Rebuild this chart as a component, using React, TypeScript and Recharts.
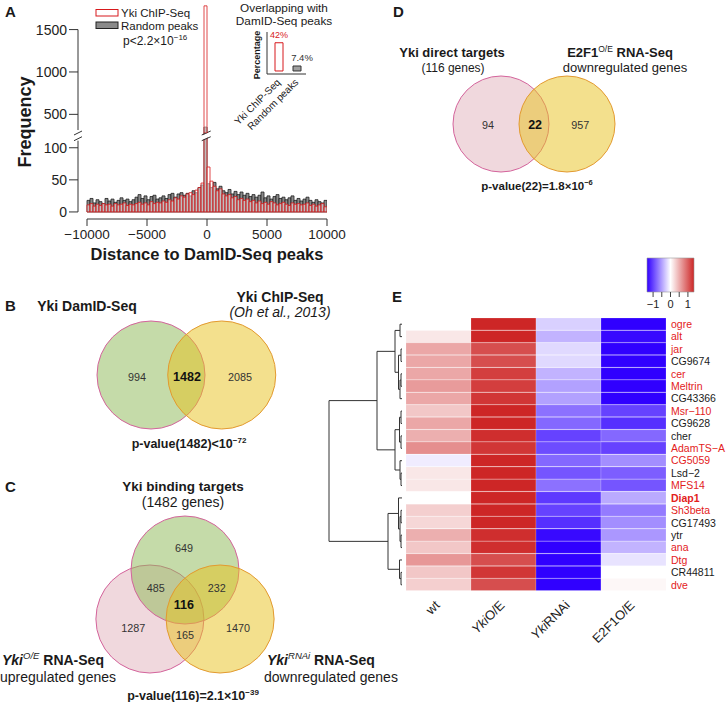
import React from 'react';
import {
  BarChart, Bar, XAxis, YAxis, ReferenceLine, ReferenceArea, ScatterChart, Scatter,
  ComposedChart, Line, Cell, LabelList,
} from 'recharts';

const FONT = '"Liberation Sans", Arial, Helvetica, sans-serif';

// ---------------- Panel A: histogram ----------------
const histBinStart = -10000;
const histBinWidth = 250;
const histTicks = [-10000, -5000, 0, 5000, 10000];
const randomPeaks = [
  18, 21, 14, 19, 16, 13, 21, 17, 20, 15, 18, 22, 18, 20, 16, 19, 23, 27, 21, 25, 19, 24, 26, 20, 22, 25,
  21, 27, 29, 23, 28, 30, 26, 29, 25, 33, 30, 38, 42,
  350,
  44, 38, 46, 36, 40, 33, 30, 35, 28, 32, 27, 31, 26,
  29, 24, 27, 23, 26, 31, 22, 25, 20, 24, 27, 21, 23, 19, 22, 25, 18, 21, 17, 20, 23, 18, 15, 19, 16, 14, 18,
];
const ykiChipSeq = [
  11, 13, 9, 12, 10, 13, 11, 12, 9, 13, 11, 12, 14, 10, 12, 11, 13, 15, 12, 14, 11, 16, 13, 15, 14, 17,
  15, 19, 17, 22, 20, 25, 23, 28, 30, 27, 34, 38, 45,
  1780,
  70, 48, 40, 33, 36, 28, 25, 27, 22, 24, 19, 21, 18,
  20, 16, 18, 14, 17, 13, 15, 12, 16, 14, 11, 13, 15, 12, 10, 14, 12, 13, 11, 12, 14, 10, 12, 9, 11, 13, 8,
];
const histLowTop = 123;
const histHighBottom = 280;
const histTable = randomPeaks.map((g, i) => ({
  x: histBinStart + histBinWidth * (i + 0.5),
  gray: g,
  red: ykiChipSeq[i],
  grayHi: g > histHighBottom ? g : null,
  redHi: ykiChipSeq[i] > histHighBottom ? ykiChipSeq[i] : null,
}));

// Inset
const insetCategories = ['Yki ChIP-Seq', 'Random peaks'];
const insetPercent = [42, 7.4];
const insetLabels = ['42%', '7.4%'];
const insetTable = insetCategories.map((c, i) => ({ name: c, pct: insetPercent[i], label: insetLabels[i] }));

// ---------------- Venn diagrams ----------------
const vennBCircles = [
  { set: 'green', x: 0, y: 0, r: 1 },
  { set: 'yellow', x: 1.31, y: 0, r: 1 },
];
const vennBCounts = [
  { x: -0.26, y: -0.04, text: '994', bold: false },
  { x: 0.667, y: -0.04, text: '1482', bold: true },
  { x: 1.65, y: -0.04, text: '2085', bold: false },
];
const vennCCircles = [
  { set: 'pink', x: -0.65, y: 0, r: 1 },
  { set: 'green', x: 0, y: 0.907, r: 1 },
  { set: 'yellow', x: 0.65, y: 0, r: 1 },
];
const vennCCounts = [
  { x: -0.02, y: 1.31, text: '649', bold: false },
  { x: -0.54, y: 0.57, text: '485', bold: false },
  { x: 0.59, y: 0.57, text: '232', bold: false },
  { x: -0.02, y: 0.26, text: '116', bold: true },
  { x: -0.96, y: -0.17, text: '1287', bold: false },
  { x: 0.0, y: -0.3, text: '165', bold: false },
  { x: 0.98, y: -0.17, text: '1470', bold: false },
];
const vennDCircles = [
  { set: 'pink', x: 0, y: 0, r: 1 },
  { set: 'yellow', x: 1.375, y: 0, r: 1 },
];
const vennDCounts = [
  { x: -0.27, y: -0.02, text: '94', bold: false },
  { x: 0.71, y: -0.02, text: '22', bold: true },
  { x: 1.65, y: -0.02, text: '957', bold: false },
];
const vennPalette: Record<string, { fill: string; stroke: string }> = {
  green: { fill: 'rgb(139,183,83)', stroke: '#d4649c' },
  pink: { fill: 'rgb(225,177,187)', stroke: '#d4649c' },
  yellow: { fill: 'rgb(231,193,28)', stroke: '#e39a30' },
};

// ---------------- Panel E: heatmap ----------------
const genes = ['ogre', 'alt', 'jar', 'CG9674', 'cer', 'Meltrin', 'CG43366', 'Msr\u2212110', 'CG9628', 'cher',
  'AdamTS\u2212A', 'CG5059', 'Lsd\u22122', 'MFS14', 'Diap1', 'Sh3beta', 'CG17493', 'ytr', 'ana', 'Dtg', 'CR44811', 'dve'];
const geneIsTarget = [true, true, true, false, true, true, false, true, false, false, true, true, false, true,
  true, true, false, false, true, true, false, true];
const highlightedGene = 'Diap1';
const conditions = ['wt', 'YkiO/E', 'YkiRNAi', 'E2F1O/E'];
const wtValues = [0, 0.15, 0.55, 0.55, 0.55, 0.62, 0.55, 0.35, 0.55, 0.5, 0.7, -0.1, 0.15, 0.15,
  0, 0.3, 0.25, 0.5, 0.35, 0.65, 0.35, 0.3];
const ykiOEValues = [1.4, 1.4, 1.1, 1.1, 1.2, 1.2, 1.25, 1.35, 1.35, 1.3, 1.25, 1.4, 1.35, 1.35,
  1.4, 1.4, 1.4, 1.3, 1.3, 1.1, 1.25, 1.1];
const ykiRNAiValues = [-0.25, -0.4, -0.2, -0.2, -0.4, -0.5, -0.5, -0.75, -0.8, -1.0, -0.95, -0.8, -0.9, -0.75,
  -1.05, -1.0, -1.1, -1.3, -1.4, -1.4, -1.4, -1.4];
const e2f1OEValues = [-1.4, -1.3, -1.4, -1.4, -1.4, -1.35, -1.4, -1.0, -1.1, -0.8, -1.0, -0.6, -0.85, -0.9,
  -0.45, -0.7, -0.6, -0.55, -0.4, -0.15, 0, 0.05];
const heatColumns = [wtValues, ykiOEValues, ykiRNAiValues, e2f1OEValues];
const heatTable = genes.map((g, i) => ({ gene: g, s0: 1, s1: 1, s2: 1, s3: 1, idx: i }));
const colorbarTicks = [-1, -0.5, 0, 0.5, 1];
const colorLimit = 1.35;

// dendrogram merges (hclust style: negative = leaf index+1, positive = earlier merge)
const dendroMerges: [number, number, number][] = [
  [-1, -2, 2], [-3, -4, 1], [-5, -6, 1], [3, -7, 2], [2, 4, 3.5], [1, 5, 7],
  [-8, -9, 1], [-10, -11, 1], [7, 8, 2.5], [-13, -14, 1], [-12, 10, 2], [9, 11, 7], [6, 12, 25],
  [-16, -17, 1], [-18, -19, 1], [14, 15, 2], [-15, 16, 3.5], [-21, -22, 1], [-20, 18, 2.5], [17, 19, 14],
  [13, 20, 73],
];

const heatColor = (v: number) => {
  const t = Math.max(-1, Math.min(1, v / colorLimit));
  let r, g, b;
  if (t >= 0) {
    r = 255 + (205 - 255) * t; g = 255 + (38 - 255) * t; b = 255 + (38 - 255) * t;
  } else {
    const s = -t;
    r = 255 + (48 - 255) * s; g = 255 - 255 * s; b = 255;
  }
  return `rgb(${Math.round(r)},${Math.round(g)},${Math.round(b)})`;
};

const dendroSegments = (() => {
  const nodes: { h: number; y: number }[] = [];
  const segs: { x1: number; y1: number; x2: number; y2: number }[] = [];
  const get = (c: number) => (c < 0 ? { h: 0, y: -c - 0.5 } : nodes[c - 1]);
  dendroMerges.forEach(([a, b, h]) => {
    const A = get(a); const B = get(b);
    segs.push({ x1: A.h, y1: A.y, x2: h, y2: A.y });
    segs.push({ x1: B.h, y1: B.y, x2: h, y2: B.y });
    segs.push({ x1: h, y1: A.y, x2: h, y2: B.y });
    nodes.push({ h, y: (A.y + B.y) / 2 });
  });
  return segs;
})();
const leafPoints = genes.map((g, i) => ({ h: 0, pos: i + 0.5 }));

// ---------------- components ----------------
const minus = (v: number) => (v < 0 ? '\u2212' + Math.abs(v) : String(v));

function Venn(props: any) {
  const { left, top, width, height, unit, origin, circles, counts } = props;
  const xDomain = [-origin[0] / unit, (width - origin[0]) / unit];
  const yDomain = [-(height - origin[1]) / unit, origin[1] / unit];
  return (
    <div style={{ position: 'absolute', left, top }}>
      <ScatterChart width={width} height={height} margin={{ top: 0, right: 0, bottom: 0, left: 0 }}>
        <XAxis type="number" dataKey="x" domain={xDomain} allowDataOverflow hide />
        <YAxis type="number" dataKey="y" domain={yDomain} allowDataOverflow hide />
        <Scatter data={circles} isAnimationActive={false}
          shape={(p: any) => {
            const pal = vennPalette[p.payload.set];
            return <circle cx={p.cx} cy={p.cy} r={p.payload.r * unit} fill={pal.fill} fillOpacity={0.5}
              stroke={pal.stroke} strokeWidth={1} />;
          }} />
        <Scatter data={counts} isAnimationActive={false}
          shape={(p: any) => (
            <text x={p.cx} y={p.cy} textAnchor="middle" dominantBaseline="central"
              fontSize={p.payload.bold ? 12.5 : 10.8} fontWeight={p.payload.bold ? 'bold' : 'normal'}
              fill={p.payload.bold ? '#111' : '#333'}>{p.payload.text}</text>
          )} />
      </ScatterChart>
    </div>
  );
}

const InsetTick = (props: any) => {
  const { x, y, payload } = props;
  const px = x + 2;
  return (
    <text x={px} y={y} textAnchor="end" fontSize={10} fill="#222" transform={`rotate(-45 ${px} ${y})`}>
      {payload.value}
    </text>
  );
};

const GeneTick = (props: any) => {
  const { x, y, payload } = props;
  const i = genes.indexOf(payload.value);
  return (
    <text x={x} y={y} dy="0.36em" fontSize={10.5} fill={geneIsTarget[i] ? '#e3211c' : '#1a1a1a'}
      fontWeight={payload.value === highlightedGene ? 'bold' : 'normal'}>{payload.value}</text>
  );
};

const ColTick = (props: any) => {
  const { x, y, payload } = props;
  const j = Math.floor(payload.value);
  const name = conditions[j];
  const px = x + 2;
  const py = y;
  let content: any = name;
  if (name.startsWith('Yki')) {
    content = [<tspan key="a" fontStyle="italic">Yki</tspan>, <tspan key="b">{name.slice(3)}</tspan>];
  }
  return (
    <text x={px} y={py} textAnchor="end" fontSize={13} fill="#222" transform={`rotate(-45 ${px} ${py})`}>
      {content}
    </text>
  );
};

const T = (p: any) => {
  const { x, y, size = 14, weight = 'normal', anchor = 'start', fill = '#1a1a1a', italic = false, rotate = 0, children } = p;
  return (
    <text x={x} y={y} fontSize={size} fontWeight={weight} textAnchor={anchor} fill={fill}
      fontStyle={italic ? 'italic' : 'normal'} transform={rotate ? `rotate(${rotate} ${x} ${y})` : undefined}>
      {children}
    </text>
  );
};

const axisTickX = { fontSize: 13.5, fill: '#222', fontFamily: FONT };
const axisTickY = { fontSize: 14, fill: '#222', fontFamily: FONT };

export default function App() {
  return (
    <div style={{ position: 'absolute', left: 0, top: 0, width: 726, height: 702, background: '#fff', fontFamily: FONT, overflow: 'hidden' }}>
      {/* Histogram lower */}
      <div style={{ position: 'absolute', left: 0, top: 0 }}>
        <BarChart width={360} height={260} data={histTable} margin={{ top: 133, right: 33, bottom: 11, left: 38 }}
          barGap={0} barCategoryGap={0}>
          <XAxis xAxisId="g" type="number" dataKey="x" domain={[-10750, 10000]} allowDataOverflow ticks={histTicks}
            interval={0} height={30} axisLine={false} tickSize={7} tickMargin={3} tick={axisTickX}
            tickLine={{ stroke: '#333' }} tickFormatter={minus} />
          <XAxis xAxisId="r" type="number" dataKey="x" domain={[-10750, 10000]} allowDataOverflow hide />
          <YAxis type="number" domain={[-11, histLowTop]} allowDataOverflow ticks={[0, 50, 100]} interval={0}
            width={40} axisLine={false} tickSize={9} tickMargin={2} tick={axisTickY} tickLine={{ stroke: '#333' }} />
          <Bar xAxisId="g" dataKey="gray" fill="#8a8a8a" stroke="#1e1e1e" strokeWidth={0.8} isAnimationActive={false} />
          <Bar xAxisId="r" dataKey="red" fill="#ffffff" fillOpacity={0.45} stroke="#d7191c" strokeWidth={0.8} isAnimationActive={false} />
          <ReferenceLine xAxisId="g" segment={[{ x: -10750, y: 0 }, { x: -10750, y: 111 }]} stroke="#333" ifOverflow="visible" />
          <ReferenceLine xAxisId="g" segment={[{ x: -10000, y: -11 }, { x: 10000, y: -11 }]} stroke="#333" ifOverflow="visible" />
          <ReferenceLine xAxisId="g" segment={[{ x: -11083, y: 111 }, { x: -10417, y: 117.2 }]} stroke="#333" ifOverflow="visible" />
          <ReferenceLine xAxisId="g" segment={[{ x: -11083, y: 119.9 }, { x: -10417, y: 126.1 }]} stroke="#333" ifOverflow="visible" />
          <ReferenceLine xAxisId="g" segment={[{ x: -440, y: 115.5 }, { x: 310, y: 121.7 }]} stroke="#fff" strokeWidth={4} ifOverflow="visible" />
          <ReferenceLine xAxisId="g" segment={[{ x: -440, y: 111 }, { x: 310, y: 117.2 }]} stroke="#333" ifOverflow="visible" />
          <ReferenceLine xAxisId="g" segment={[{ x: -440, y: 119.9 }, { x: 310, y: 126.1 }]} stroke="#333" ifOverflow="visible" />
        </BarChart>
      </div>
      {/* Histogram upper */}
      <div style={{ position: 'absolute', left: 0, top: 0 }}>
        <BarChart width={360} height={140} data={histTable} margin={{ top: 5, right: 33, bottom: 7, left: 38 }}
          barGap={0} barCategoryGap={0}>
          <XAxis xAxisId="g" type="number" dataKey="x" domain={[-10750, 10000]} allowDataOverflow hide />
          <XAxis xAxisId="r" type="number" dataKey="x" domain={[-10750, 10000]} allowDataOverflow hide />
          <YAxis type="number" domain={[histHighBottom, 1790]} allowDataOverflow ticks={[500, 1000, 1500]} interval={0}
            width={40} axisLine={false} tickSize={9} tickMargin={2} tick={axisTickY} tickLine={{ stroke: '#333' }} />
          <Bar xAxisId="g" dataKey="grayHi" fill="#8a8a8a" stroke="#1e1e1e" strokeWidth={0.8} isAnimationActive={false} />
          <Bar xAxisId="r" dataKey="redHi" fill="#ffffff" fillOpacity={0.45} stroke="#d7191c" strokeWidth={0.8} isAnimationActive={false} />
          <ReferenceLine xAxisId="g" segment={[{ x: -10750, y: 315 }, { x: -10750, y: 1500 }]} stroke="#333" ifOverflow="visible" />
        </BarChart>
      </div>
      {/* Inset */}
      <div style={{ position: 'absolute', left: 200, top: 0 }}>
        <BarChart width={120} height={140} data={insetTable} margin={{ top: 32, right: 14, bottom: 16, left: 47 }} barSize={8}>
          <XAxis dataKey="name" axisLine={{ stroke: '#333' }} tickLine={false} tickSize={0} tickMargin={9} height={50}
            padding={{ left: 3, right: 0 }} tick={<InsetTick />} interval={0} />
          <YAxis type="number" domain={[-4.5, 58]} allowDataOverflow width={20} tick={false} tickLine={false} axisLine={{ stroke: '#333' }} />
          <Bar dataKey="pct" isAnimationActive={false} strokeWidth={1}>
            {insetTable.map((d, i) => (
              <Cell key={i} fill={i === 0 ? '#ffffff' : '#a0a0a0'} stroke={i === 0 ? '#d7191c' : '#333'} />
            ))}
            <LabelList dataKey="label" content={(p: any) => (
              <text x={p.x + p.width / 2 + (p.index === 1 ? 5 : 0)} y={p.y - 5} textAnchor="middle"
                fontSize={p.index === 0 ? 9 : 9.5}
                fill={p.index === 0 ? '#d7191c' : '#333'}>{p.value}</text>
            )} />
          </Bar>
        </BarChart>
      </div>

      {/* Venns */}
      <Venn left={430} top={60} width={210} height={130} unit={48} origin={[71, 64]} circles={vennDCircles} counts={vennDCounts} />
      <Venn left={60} top={300} width={260} height={150} unit={54} origin={[91, 75]} circles={vennBCircles} counts={vennBCounts} />
      <Venn left={80} top={500} width={220} height={190} unit={54} origin={[105, 119]} circles={vennCCircles} counts={vennCCounts} />

      {/* Dendrogram */}
      <div style={{ position: 'absolute', left: 320, top: 300 }}>
        <ScatterChart width={86} height={300} margin={{ top: 18, right: 4, bottom: 9, left: 9 }}>
          <XAxis type="number" dataKey="h" domain={[0, 73]} reversed allowDataOverflow hide />
          <YAxis type="number" dataKey="pos" domain={[0, 22]} reversed allowDataOverflow hide />
          <Scatter data={leafPoints} shape={() => <g />} isAnimationActive={false} />
          {dendroSegments.map((s, i) => (
            <ReferenceLine key={i} segment={[{ x: s.x1, y: s.y1 }, { x: s.x2, y: s.y2 }]} stroke="#333" strokeWidth={1} ifOverflow="visible" />
          ))}
        </ScatterChart>
      </div>

      {/* Heatmap */}
      <div style={{ position: 'absolute', left: 400, top: 300 }}>
        <BarChart layout="vertical" width={326} height={360} data={heatTable} margin={{ top: 18, right: 0, bottom: 9, left: 6 }}
          barCategoryGap={0} barGap={0}>
          <XAxis type="number" domain={[0, 4]} allowDataOverflow ticks={[0.5, 1.5, 2.5, 3.5]} interval={0}
            axisLine={false} tickLine={false} tickSize={0} tickMargin={15} height={60} tick={<ColTick />} />
          <YAxis type="category" dataKey="gene" orientation="right" width={60} axisLine={false} tickLine={false}
            tickSize={0} tickMargin={5} interval={0} tick={<GeneTick />} />
          {heatColumns.map((vals, j) => (
            <Bar key={j} dataKey={`s${j}`} stackId="h" isAnimationActive={false}>
              {vals.map((v, i) => (
                <Cell key={i} fill={heatColor(v)} stroke="rgba(255,255,255,0.35)" strokeWidth={0.5} />
              ))}
            </Bar>
          ))}
        </BarChart>
      </div>

      {/* Colour key */}
      <div style={{ position: 'absolute', left: 640, top: 250 }}>
        <ComposedChart width={70} height={70} data={colorbarTicks.map(v => ({ v, y: 0.5 }))} margin={{ top: 8, right: 16, bottom: 4, left: 7 }}>
          <defs>
            <linearGradient id="heatGrad" x1="0" y1="0" x2="1" y2="0">
              <stop offset="0%" stopColor={heatColor(-colorLimit)} />
              <stop offset="50%" stopColor={heatColor(0)} />
              <stop offset="100%" stopColor={heatColor(colorLimit)} />
            </linearGradient>
          </defs>
          <XAxis type="number" dataKey="v" domain={[-colorLimit, colorLimit]} allowDataOverflow ticks={colorbarTicks}
            interval={0} axisLine={false} tickSize={5} tickMargin={3} height={24}
            tick={{ fontSize: 11, fill: '#222' }} tickLine={{ stroke: '#444' }}
            tickFormatter={(v: number) => (Number.isInteger(v) ? minus(v) : '')} />
          <YAxis type="number" domain={[0, 1]} hide allowDataOverflow />
          <Line dataKey="y" stroke="none" dot={false} isAnimationActive={false} />
          <ReferenceArea x1={-colorLimit} x2={colorLimit} y1={0} y2={1} fill="url(#heatGrad)" fillOpacity={1}
            stroke="#999" strokeWidth={0.6} ifOverflow="visible" />
        </ComposedChart>
      </div>

      {/* Text overlay */}
      <svg width={726} height={702} style={{ position: 'absolute', left: 0, top: 0, pointerEvents: 'none' }}>
        {/* Panel A */}
        <T x={5} y={17} size={15} weight="bold">A</T>
        <rect x={96} y={9.5} width={22} height={6.5} fill="#fff" stroke="#d7191c" strokeWidth={1} />
        <rect x={96} y={22} width={22} height={6.5} fill="#8a8a8a" stroke="#222" strokeWidth={1} />
        <T x={121} y={17} size={11.5}>Yki ChIP-Seq</T>
        <T x={121} y={29.5} size={11.5}>Random peaks</T>
        <T x={123} y={45} size={12}>p&lt;2.2×10<tspan dy={-5} fontSize={8}>−16</tspan></T>
        <T x={284} y={12} size={11.8} anchor="middle">Overlapping with</T>
        <T x={284} y={25} size={11.8} anchor="middle">DamID-Seq peaks</T>
        <T x={260} y={55} size={9} weight="bold" anchor="middle" rotate={-90}>Percentage</T>
        <T x={31} y={122} size={18} weight="bold" anchor="middle" rotate={-90}>Frequency</T>
        <T x={207} y={260} size={16.5} weight="bold" anchor="middle">Distance to DamID-Seq peaks</T>

        {/* Panel D */}
        <T x={393} y={17} size={15} weight="bold">D</T>
        <T x={452} y={57} size={13} weight="bold" anchor="middle">Yki direct targets</T>
        <T x={453} y={72} size={12} anchor="middle">(116 genes)</T>
        <T x={620} y={57} size={13} weight="bold" anchor="middle">E2F1<tspan dy={-5} fontSize={8.5} fontWeight="normal">O/E</tspan><tspan dy={5}> RNA-Seq</tspan></T>
        <T x={625} y={72} size={13} anchor="middle">downregulated genes</T>
        <T x={537} y={190} size={11.5} weight="bold" anchor="middle">p-value(22)=1.8×10<tspan dy={-5} fontSize={7.5}>−6</tspan></T>

        {/* Panel B */}
        <T x={5} y={311} size={15} weight="bold">B</T>
        <T x={87} y={311} size={14} weight="bold" anchor="middle">Yki DamID-Seq</T>
        <T x={280} y={302} size={14} weight="bold" anchor="middle">Yki ChIP-Seq</T>
        <T x={280} y={317} size={14} italic anchor="middle">(Oh et al., 2013)</T>
        <T x={189} y={448} size={12.5} weight="bold" anchor="middle">p-value(1482)&lt;10<tspan dy={-5} fontSize={8}>−72</tspan></T>

        {/* Panel C */}
        <T x={5} y={492} size={15} weight="bold">C</T>
        <T x={183} y={491} size={13.5} weight="bold" anchor="middle">Yki binding targets</T>
        <T x={183} y={507} size={14} anchor="middle">(1482 genes)</T>
        <T x={2} y={665} size={14} weight="bold"><tspan fontStyle="italic">Yki</tspan><tspan dy={-6} fontSize={9.5} fontStyle="italic" fontWeight="normal">O/E</tspan><tspan dy={6}> RNA-Seq</tspan></T>
        <T x={0} y={682} size={14}>upregulated genes</T>
        <T x={267} y={665} size={14} weight="bold"><tspan fontStyle="italic">Yki</tspan><tspan dy={-6} fontSize={9.5} fontStyle="italic" fontWeight="normal">RNAi</tspan><tspan dy={6}> RNA-Seq</tspan></T>
        <T x={264} y={682} size={14}>downregulated genes</T>
        <T x={193} y={700} size={12.5} weight="bold" anchor="middle">p-value(116)=2.1×10<tspan dy={-5} fontSize={8}>−39</tspan></T>

        {/* Panel E */}
        <T x={392} y={302} size={15} weight="bold">E</T>
      </svg>
    </div>
  );
}
